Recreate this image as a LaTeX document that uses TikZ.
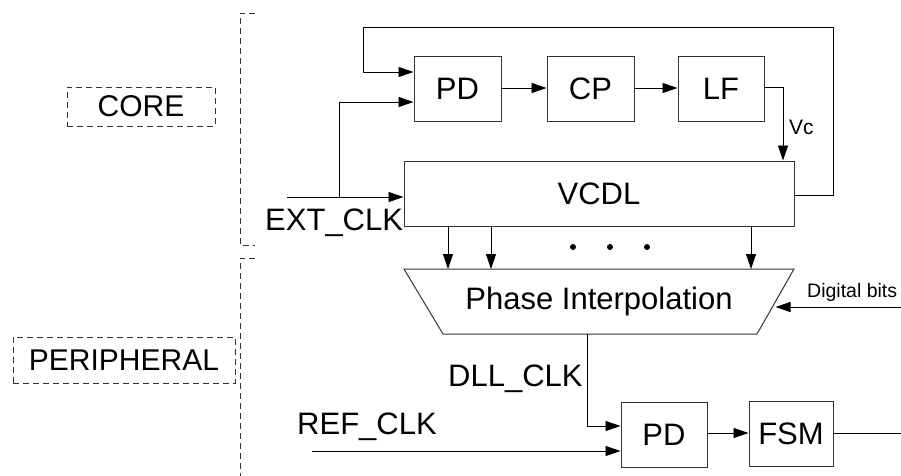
\documentclass[tikz,border=0pt]{standalone}
\usepackage{fontspec}
\setmainfont{Liberation Sans}
\usetikzlibrary{arrows.meta}
\tikzset{
  blk/.style={draw=black!80,line width=1pt,minimum height=65pt,inner sep=0pt,font=\fontsize{31}{31}\selectfont},
  wire/.style={line width=0.9pt},
  arr/.style={wire,-{Triangle[length=15pt,width=10pt]}},
  dashbox/.style={draw=black!80,line width=0.9pt,dash pattern=on 6pt off 4pt,inner sep=0pt,font=\fontsize{30}{30}\selectfont},
  bracket/.style={draw=black!80,line width=0.9pt,dash pattern=on 6pt off 4pt},
  lbl/.style={inner sep=0pt,anchor=base west,font=\fontsize{31}{31}\selectfont},
  dotn/.style={circle,fill=black,inner sep=0pt,minimum size=6pt}
}
\begin{document}
\begin{tikzpicture}[x=1pt,y=-1pt]
\useasboundingbox (0,0) rectangle (901,475);
% region labels
\node[dashbox,minimum width=148pt,minimum height=39pt] (core) at (141,106.5) {CORE};
\node[dashbox,minimum width=222pt,minimum height=46pt] (peri) at (124,360) {PERIPHERAL};
\draw[bracket] (255,13) -- (240,13) -- (240,245) -- (255,245);
\draw[bracket] (255,258) -- (240,258) -- (240,480);
% blocks
\node[blk,minimum width=87pt] (pd1) at (457.5,88.5) {PD};
\node[blk,minimum width=87pt] (cp) at (590.5,88.5) {CP};
\node[blk,minimum width=86pt] (lf) at (721,88.5) {LF};
\node[blk,minimum width=390pt] (vcdl) at (599,193.5) {VCDL};
\node[blk,minimum width=86pt] (pd2) at (664,434.5) {PD};
\node[blk,minimum width=84pt] (fsm) at (791,433.5) {FSM};
% phase interpolation trapezoid
\coordinate (tl) at (404,269);
\coordinate (tr) at (794,269);
\coordinate (br) at (757,334);
\coordinate (bl) at (443,334);
\draw[draw=black!80,line width=1pt] (tl) -- (tr) -- (br) -- (bl) -- cycle;
\node[inner sep=0pt,font=\fontsize{31}{31}\selectfont] (pi) at (599,301.5) {Phase Interpolation};
\coordinate (pie) at (775.5,307);
\coordinate (pis) at (587,334);
% coordinates
\coordinate (ext) at (287,197);
\coordinate (ref) at (312,451);
\coordinate (dbin) at (901,307);
\coordinate (fsmout) at (901,433);
% top loop
\draw[arr] (pd1.east |- 0,88) -- (cp.west |- 0,88);
\draw[arr] (cp.east |- 0,88) -- (lf.west |- 0,88);
\draw[arr] (lf.east |- 0,87) -| (783,0 |- vcdl.north);
\draw[arr] (vcdl.east |- 0,195) -- (833,195) -- (833,27) -- (363,27) -- (363,72) -- (pd1.west |- 0,72);
\draw[arr] (ext) -- (vcdl.west |- ext);
\draw[arr] (339,197) -- (339,102) -- (pd1.west |- 0,102);
% VCDL to PI
\draw[arr] (448,0 |- vcdl.south) -- (448,269);
\draw[arr] (491,0 |- vcdl.south) -- (491,269);
\draw[arr] (751,0 |- vcdl.south) -- (751,269);
\node[dotn] (d1) at (573,247) {};
\node[dotn] (d2) at (610,247) {};
\node[dotn] (d3) at (647,247) {};
% digital bits
\draw[arr] (dbin) -- (pie);
\node[inner sep=0pt,anchor=base west,font=\fontsize{19.5}{20}\selectfont] (dbl) at (807,297) {Digital bits};
% lower part
\draw[arr] (pis) -- (587,426) -- (pd2.west |- 0,426);
\draw[arr] (ref) -- (pd2.west |- ref);
\draw[arr] (pd2.east |- 0,433) -- (fsm.west |- 0,433);
\draw[wire] (fsm.east |- fsmout) -- (fsmout);
% labels
\node[lbl] (extl) at (265,230) {EXT\_CLK};
\node[lbl] (dlll) at (448,386) {DLL\_CLK};
\node[lbl] (refl) at (297,434) {REF\_CLK};
\node[inner sep=0pt,anchor=base west,font=\fontsize{21}{21}\selectfont] (vcl) at (789,134) {Vc};
\end{tikzpicture}
\end{document}
